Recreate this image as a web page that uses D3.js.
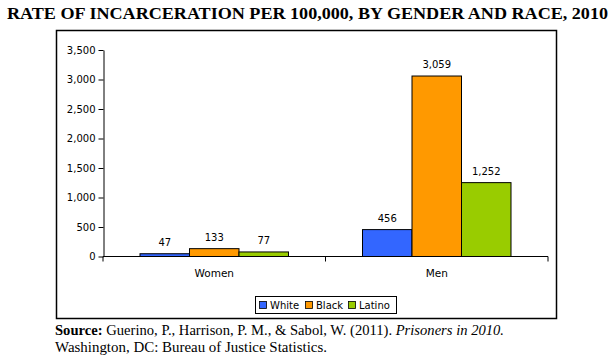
<!DOCTYPE html>
<html><head><meta charset="utf-8">
<script src="https://cdn.jsdelivr.net/npm/d3@7"></script>
<style>body{margin:0;background:#fff}svg{display:block}</style>
</head><body>
<script>
const categories = ["Women", "Men"];
const seriesNames = ["White", "Black", "Latino"];
const white = [47, 456];
const black = [133, 3059];
const latino = [77, 1252];
const valueLabels = [["47","133","77"],["456","3,059","1,252"]];
const yTicks = [0, 500, 1000, 1500, 2000, 2500, 3000, 3500];
const colors = ["#3366FF", "#FF9900", "#99CC00"];

const W = 613, H = 359;
const svg = d3.select("body").append("svg").attr("width", W).attr("height", H);

// title
svg.append("text").attr("x", 7).attr("y", 19)
  .attr("font-family", "Liberation Serif, serif").attr("font-weight", "bold")
  .attr("font-size", 16).attr("textLength", 601).attr("lengthAdjust", "spacingAndGlyphs")
  .text("RATE OF INCARCERATION PER 100,000, BY GENDER AND RACE, 2010");

// chart box
svg.append("rect").attr("x", 56.5).attr("y", 30.5).attr("width", 500).attr("height", 288)
  .attr("fill", "#fff").attr("stroke", "#000").attr("stroke-width", 1.5);

const x0 = d3.scaleBand().domain(categories).range([103, 548]).paddingInner(0).paddingOuter(0);
const x1 = d3.scaleBand().domain(seriesNames).range([37, x0.bandwidth() - 37]);
const y = d3.scaleLinear().domain([0, 3500]).range([256.5, 50]);

const sans = "DejaVu Sans, Verdana, sans-serif";

// y axis
const yAxis = d3.axisLeft(y).tickValues(yTicks).tickFormat(d3.format(",")).tickSize(5).tickSizeOuter(0);
const gy = svg.append("g").attr("transform", "translate(103.5,0)").call(yAxis);
gy.selectAll("text").attr("font-family", sans).attr("font-size", 10).attr("fill", "#000").attr("x", -8);
gy.selectAll("line,path").attr("stroke", "#000");

// x axis
const gx = svg.append("g").attr("transform", "translate(0,256.5)");
gx.append("line").attr("x1", 103).attr("x2", 548).attr("stroke", "#000");
const xt = [103, ...categories.map(c => x0(c) + x0.bandwidth())];
gx.selectAll("line.t").data(xt).join("line").attr("class", "t")
  .attr("x1", d => d).attr("x2", d => d).attr("y1", 0).attr("y2", 5).attr("stroke", "#000");
gx.selectAll("text").data(categories).join("text")
  .attr("x", d => x0(d) + x0.bandwidth() / 2).attr("y", 20)
  .attr("text-anchor", "middle").attr("font-family", sans).attr("font-size", 10.5).text(d => d);

// bars
const data = categories.map((c, i) => ({ cat: c, vals: [white[i], black[i], latino[i]] }));
const groups = svg.selectAll("g.grp").data(data).join("g").attr("class", "grp")
  .attr("transform", d => `translate(${x0(d.cat)},0)`);
groups.selectAll("rect").data(d => d.vals.map((v, j) => ({ v, s: seriesNames[j], j })))
  .join("rect")
  .attr("x", d => x1(d.s)).attr("width", x1.bandwidth())
  .attr("y", d => y(d.v)).attr("height", d => y(0) - y(d.v))
  .attr("fill", d => colors[d.j]).attr("stroke", "#000").attr("stroke-width", 1);
groups.each(function(d, i) {
  d3.select(this).selectAll("text").data(d.vals.map((v, j) => ({ v, s: seriesNames[j], lab: valueLabels[i][j] })))
    .join("text")
    .attr("x", e => x1(e.s) + x1.bandwidth() / 2).attr("y", e => y(e.v) - 8)
    .attr("text-anchor", "middle").attr("font-family", sans).attr("font-size", 10).text(e => e.lab);
});

// legend
const lg = svg.append("g");
lg.append("rect").attr("x", 255.5).attr("y", 296.5).attr("width", 141).attr("height", 17)
  .attr("fill", "#fff").attr("stroke", "#000");
const lx = [259, 305, 348];
seriesNames.forEach((s, i) => {
  lg.append("rect").attr("x", lx[i] + 0.5).attr("y", 301.5).attr("width", 7).attr("height", 7)
    .attr("fill", colors[i]).attr("stroke", "#000").attr("stroke-width", 0.8);
  lg.append("text").attr("x", lx[i] + 11).attr("y", 309).attr("font-family", sans).attr("font-size", 10).text(s);
});

// source
const serif = "Liberation Serif, serif";
const s1 = svg.append("text").attr("x", 55).attr("y", 335).attr("font-family", serif).attr("font-size", 14.5)
  .attr("textLength", 449).attr("lengthAdjust", "spacingAndGlyphs");
s1.append("tspan").attr("font-weight", "bold").text("Source:");
s1.append("tspan").text(" Guerino, P., Harrison, P. M., & Sabol, W. (2011). ");
s1.append("tspan").attr("font-style", "italic").text("Prisoners in 2010.");
svg.append("text").attr("x", 55).attr("y", 352).attr("font-family", serif).attr("font-size", 14.5)
  .attr("textLength", 272).attr("lengthAdjust", "spacingAndGlyphs")
  .text("Washington, DC: Bureau of Justice Statistics.");
</script>
</body></html>
